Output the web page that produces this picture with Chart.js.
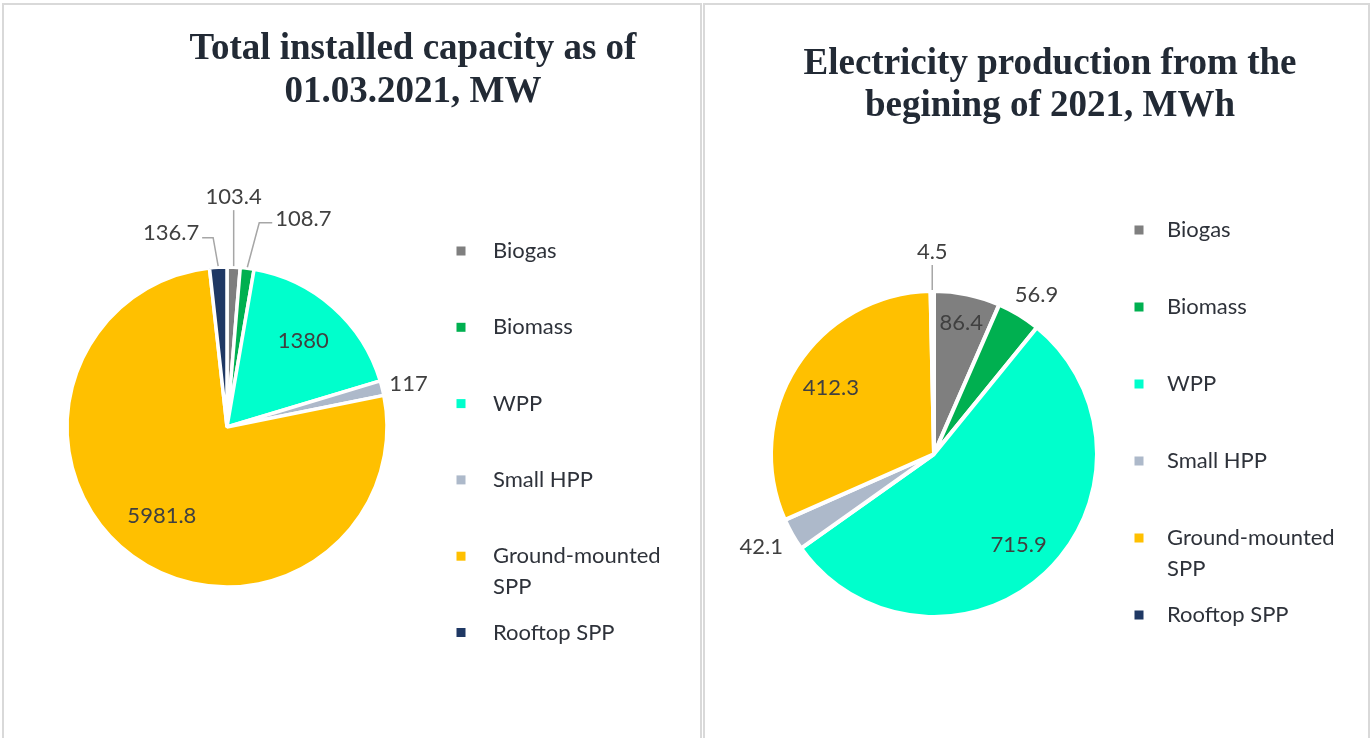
<!DOCTYPE html>
<html>
<head>
<meta charset="utf-8">
<script src="https://cdn.jsdelivr.net/npm/chart.js@4.4.1/dist/chart.umd.min.js"></script>
<style>
    body { margin: 0; background: #fff; width: 1372px; height: 738px; overflow: hidden; position: relative; }
    .panel { position: absolute; top: 3px; height: 760px; border: 2px solid #d9d9d9; box-sizing: border-box; }
    #p1 { left: 2px; width: 700px; }
    #p2 { left: 703px; width: 667px; }
    canvas { position: absolute; left: 0; top: 0; }
</style>
</head>
<body>
<div class="panel" id="p1"></div>
<div class="panel" id="p2"></div>
<canvas id="capChart" width="1372" height="738"></canvas>
<canvas id="prodChart" width="1372" height="738"></canvas>
<script>
// data
const categories = ['Biogas', 'Biomass', 'WPP', 'Small HPP', 'Ground-mounted SPP', 'Rooftop SPP'];
const legendLines = [['Biogas'], ['Biomass'], ['WPP'], ['Small HPP'], ['Ground-mounted', 'SPP'], ['Rooftop SPP']];
const capacityMW = [103.4, 108.7, 1380, 117, 5981.8, 136.7];
const productionMWh = [86.4, 56.9, 715.9, 42.1, 412.3, 4.5];
const capacityTitle = ['Total installed capacity as of', '01.03.2021, MW'];
const productionTitle = ['Electricity production from the', 'begining of 2021, MWh'];

const sliceColors = ['#7f7f7f', '#00b050', '#00ffcc', '#adb9ca', '#ffc000', '#1f3864'];
const W = 1372, H = 738;

// padding so the pie sits at (cx, cy) with radius r
function padFor(cx, cy, r, bw) {
    const side = 2 * r + bw;
    return { left: cx - side / 2, top: cy - side / 2, right: W - cx - side / 2, bottom: H - cy - side / 2 };
}

const pieDecor = {
    id: 'pieDecor',
    afterDraw(chart, args, opts) {
        const ctx = chart.ctx;
        ctx.save();
        // title
        ctx.fillStyle = '#222a35';
        ctx.font = 'bold 37px "Liberation Serif", "Times New Roman", serif';
        ctx.textAlign = 'center';
        ctx.textBaseline = 'alphabetic';
        opts.title.forEach((t, i) => ctx.fillText(t, opts.titleX, opts.titleY + i * opts.titleStep));

        // legend
        ctx.font = '22px Lato';
        ctx.textAlign = 'left';
        ctx.textBaseline = 'middle';
        const colors = chart.data.datasets[0].backgroundColor;
        legendLines.forEach((lines, i) => {
            const y = opts.legendY + i * opts.legendStep;
            ctx.fillStyle = colors[i];
            ctx.fillRect(opts.legendX - 4.5, y - 4.5, 9, 9);
            ctx.fillStyle = '#2e323a';
            lines.forEach((t, j) => ctx.fillText(t, opts.legendTextX, y + j * 31));
        });

        // data labels
        const meta = chart.getDatasetMeta(0);
        const values = chart.data.datasets[0].data;
        ctx.strokeStyle = '#a6a6a6';
        ctx.lineWidth = 1.5;
        meta.data.forEach((arc, i) => {
            const p = arc.getProps(['x', 'y', 'startAngle', 'endAngle', 'outerRadius'], true);
            const mid = (p.startAngle + p.endAngle) / 2;
            const c = Math.cos(mid), s = Math.sin(mid);
            const pl = opts.placement[i];
            const text = String(values[i]);
            ctx.fillStyle = '#404040';
            ctx.textBaseline = 'middle';
            if (pl.k) {
                ctx.textAlign = 'center';
                ctx.fillText(text, p.x + c * p.outerRadius * pl.k, p.y + s * p.outerRadius * pl.k);
            } else if (pl.out) {
                const tw = ctx.measureText(text).width;
                const d = p.outerRadius + pl.out;
                ctx.textAlign = 'center';
                ctx.fillText(text, p.x + c * d + c * tw / 2, p.y + s * d + s * 11);
            } else {
                // leader line
                const x0 = p.x + c * (p.outerRadius + 1), y0 = p.y + s * (p.outerRadius + 1);
                const lean = pl.lean * Math.PI / 180;
                const x1 = x0 + Math.sin(lean) * pl.len, y1 = y0 - Math.cos(lean) * pl.len;
                ctx.beginPath();
                ctx.moveTo(x0, y0);
                ctx.lineTo(x1, y1);
                if (pl.arm) ctx.lineTo(x1 + pl.arm, y1);
                ctx.stroke();
                if (!pl.arm) {
                    ctx.textAlign = 'center';
                    ctx.fillText(text, x1, y1 - 13);
                } else if (pl.arm > 0) {
                    ctx.textAlign = 'left';
                    ctx.fillText(text, x1 + pl.arm + 3, y1 - 4);
                } else {
                    ctx.textAlign = 'right';
                    ctx.fillText(text, x1 + pl.arm - 3, y1 - 5);
                }
            }
        });
        ctx.restore();
    }
};

const makePie = (id, values, bw, pad, decor) => new Chart(document.getElementById(id), {
    type: 'pie',
    data: {
        labels: categories,
        datasets: [{
            data: values,
            backgroundColor: sliceColors,
            borderColor: '#ffffff',
            borderWidth: bw,
            hoverOffset: 0
        }]
    },
    options: {
        responsive: false,
        animation: false,
        events: [],
        layout: { padding: pad },
        plugins: {
            legend: { display: false },
            tooltip: { enabled: false },
            pieDecor: decor
        }
    },
    plugins: [pieDecor]
});

makePie('capChart', capacityMW, 3.5, padFor(227, 427, 160, 3.5), {
    title: capacityTitle, titleX: 413, titleY: 59, titleStep: 43,
    legendX: 461, legendTextX: 493, legendY: 251, legendStep: 76.3,
    placement: [
        { lean: 0, len: 56, arm: 0 },
        { lean: 15, len: 46, arm: 13 },
        { k: 0.72 },
        { out: 8 },
        { k: 0.69 },
        { lean: -10, len: 29, arm: -11 }
    ]
});

makePie('prodChart', productionMWh, 4, padFor(934, 454, 163, 4), {
    title: productionTitle, titleX: 1050, titleY: 74, titleStep: 42,
    legendX: 1139, legendTextX: 1167, legendY: 230, legendStep: 77,
    placement: [
        { k: 0.82 },
        { out: 12 },
        { k: 0.76 },
        { out: 14 },
        { k: 0.75 },
        { lean: 0, len: 25, arm: 0 }
    ]
});
</script>
</body>
</html>
